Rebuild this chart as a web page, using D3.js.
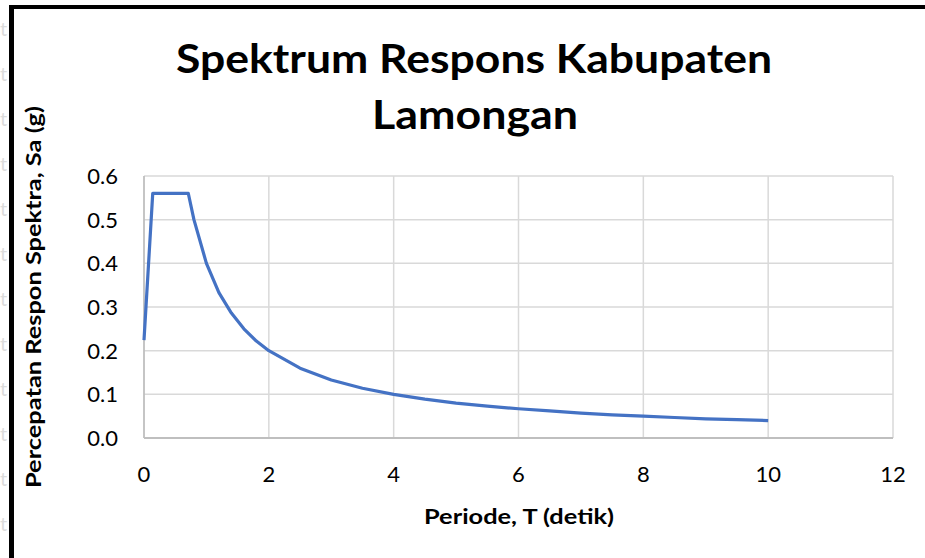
<!DOCTYPE html>
<meta charset="utf-8">
<style>
body { margin: 0; background: #fff; }
svg { display: block; font-family: Lato, "Open Sans", sans-serif; }
.grid line { stroke: #d9d9d9; stroke-width: 1.5px; }
.axisline { stroke: #bfbfbf; stroke-width: 1.8px; }
.tick-label { font-size: 22px; fill: #000; }
.series { fill: none; stroke: #4472c4; stroke-width: 3.2px; stroke-linejoin: round; }
.mark { fill: #dcdcdc; font-size: 20px; }
</style>
<svg width="925" height="558"></svg>
<script src="https://d3js.org/d3.v7.min.js"></script>
<script>

// periode T (detik) and spectral acceleration Sa (g)
var periods = [0, 0.14, 0.71, 0.8, 1.0, 1.2, 1.4, 1.6, 1.8, 2.0, 2.5, 3.0, 3.5, 4.0, 4.5,
               5.0, 5.5, 6.0, 6.5, 7.0, 7.5, 8.0, 8.5, 9.0, 9.5, 10.0];
var sa = [0.224, 0.56, 0.56, 0.5, 0.4, 0.333, 0.286, 0.25, 0.222, 0.2, 0.16, 0.133, 0.114, 0.1, 0.089,
          0.08, 0.073, 0.067, 0.062, 0.057, 0.053, 0.05, 0.047, 0.044, 0.042, 0.04];

var xTicks = [0, 2, 4, 6, 8, 10, 12];
var yTicks = [0, 0.1, 0.2, 0.3, 0.4, 0.5, 0.6];

var svg = d3.select("svg");

var x = d3.scaleLinear().domain([0, 12]).range([144, 893]);
var y = d3.scaleLinear().domain([0, 0.6]).range([438, 176]);

// faint watermark letters left of the frame
var wm = svg.append("g");
for (var i = 0; i < 12; i++) {
  wm.append("text").attr("class", "mark").attr("x", 0).attr("y", 36 + i * 45).text("t");
}

// frame (top and left edge only)
svg.append("rect").attr("x", 9).attr("y", 5).attr("width", 916).attr("height", 4).attr("fill", "#000");
svg.append("rect").attr("x", 9).attr("y", 5).attr("width", 5).attr("height", 553).attr("fill", "#000");

// gridlines
var grid = svg.append("g").attr("class", "grid");
grid.selectAll("line.h").data(yTicks.slice(1)).enter().append("line")
    .attr("x1", x(0)).attr("x2", x(12))
    .attr("y1", function(d) { return y(d); }).attr("y2", function(d) { return y(d); });
grid.selectAll("line.v").data(xTicks.slice(1)).enter().append("line")
    .attr("y1", y(0)).attr("y2", y(0.6))
    .attr("x1", function(d) { return x(d); }).attr("x2", function(d) { return x(d); });

svg.append("line").attr("class", "axisline")
    .attr("x1", x(0)).attr("x2", x(0)).attr("y1", y(0.6)).attr("y2", y(0));
svg.append("line").attr("class", "axisline")
    .attr("x1", x(0)).attr("x2", x(12)).attr("y1", y(0)).attr("y2", y(0));

// tick labels
svg.selectAll("text.ylab").data(yTicks).enter().append("text")
    .attr("class", "tick-label")
    .attr("x", 118)
    .attr("y", function(d) { return y(d); })
    .attr("dy", "0.36em")
    .attr("text-anchor", "end")
    .text(function(d) { return d3.format(".1f")(d); });

svg.selectAll("text.xlab").data(xTicks).enter().append("text")
    .attr("class", "tick-label")
    .attr("x", function(d) { return x(d); })
    .attr("y", 482)
    .attr("text-anchor", "middle")
    .text(function(d) { return d; });

// series
var line = d3.line()
    .x(function(d, i) { return x(periods[i]); })
    .y(function(d) { return y(d); });

svg.append("path").datum(sa).attr("class", "series").attr("d", line);

// titles
svg.append("text")
    .attr("x", 474).attr("y", 73)
    .attr("text-anchor", "middle")
    .attr("textLength", 596).attr("lengthAdjust", "spacingAndGlyphs")
    .style("font-size", "41px").style("font-weight", "bold")
    .text("Spektrum Respons Kabupaten");
svg.append("text")
    .attr("x", 475).attr("y", 129)
    .attr("text-anchor", "middle")
    .attr("textLength", 206).attr("lengthAdjust", "spacingAndGlyphs")
    .style("font-size", "41px").style("font-weight", "bold")
    .text("Lamongan");

svg.append("text")
    .attr("x", 519).attr("y", 524)
    .attr("text-anchor", "middle")
    .attr("textLength", 190).attr("lengthAdjust", "spacingAndGlyphs")
    .style("font-size", "20px").style("font-weight", "bold")
    .text("Periode, T (detik)");

svg.append("text")
    .attr("transform", "translate(41,297) rotate(-90)")
    .attr("text-anchor", "middle")
    .attr("textLength", 382).attr("lengthAdjust", "spacingAndGlyphs")
    .style("font-size", "20px").style("font-weight", "bold")
    .text("Percepatan Respon Spektra, Sa (g)");

</script>
